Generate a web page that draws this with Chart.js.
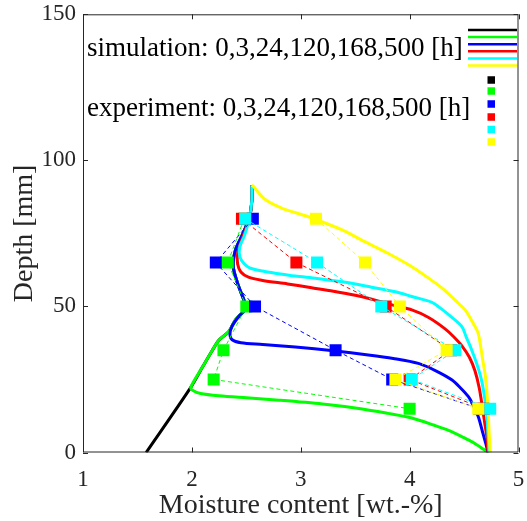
<!DOCTYPE html>
<html>
<head>
<meta charset="utf-8">
<script src="https://cdn.jsdelivr.net/npm/chart.js@4.4.1/dist/chart.umd.min.js"></script>
<style>
  html, body { margin: 0; padding: 0; background: #fff; }
</style>
</head>
<body>
<canvas id="profile" width="527" height="521"></canvas>
<script>
// drying times [h] and their colours
const hours = ['0', '3', '24', '120', '168', '500'];
const colors = ['#000000', '#00ff00', '#0000ff', '#ff0000', '#00ffff', '#ffff00'];

// axis ticks
const xTicks = [1, 2, 3, 4, 5];
const yTicks = [0, 50, 100, 150];

// simulated moisture profiles: [moisture wt.-%, depth mm]
const sim0h = [[1.58, 0], [1.99, 22.3], [2.10, 29.4], [2.19, 35.1], [2.25, 38.5], [2.34, 41.4],
  [2.40, 45.4], [2.50, 49.4], [2.48, 52], [2.42, 57.9], [2.38, 63.6], [2.40, 69.3], [2.47, 75],
  [2.53, 80.7], [2.55, 86], [2.55, 91.5]];
const sim3h = [[4.72, 0], [4.62, 2.6], [4.54, 4.3], [4.39, 7.1], [4.22, 9.4], [4.02, 11.8],
  [3.80, 13.4], [3.55, 15.0], [3.20, 16.6], [2.80, 17.9], [2.50, 18.7], [2.25, 19.4], [2.08, 20.2],
  [2.01, 21.2], [1.99, 22.3], [2.10, 29.4], [2.19, 35.1], [2.25, 38.5], [2.34, 41.4], [2.40, 45.4],
  [2.50, 49.4], [2.48, 52], [2.42, 57.9], [2.38, 63.6], [2.40, 69.3], [2.47, 75], [2.53, 80.7],
  [2.55, 86], [2.55, 91.5]];
const sim24h = [[4.72, 0], [4.70, 3], [4.67, 7], [4.63, 12.3], [4.58, 16.5], [4.54, 19.1],
  [4.47, 22], [4.39, 24.8], [4.25, 27.8], [4.08, 30.5], [3.85, 32.2], [3.62, 33.4], [3.30, 34.8],
  [2.95, 36.1], [2.65, 37.0], [2.45, 37.6], [2.37, 38.6], [2.35, 40.5], [2.37, 43.3], [2.44, 47],
  [2.50, 49.4], [2.48, 52], [2.42, 57.9], [2.38, 63.6], [2.40, 69.3], [2.47, 75], [2.53, 80.7],
  [2.55, 86], [2.55, 91.5]];
const sim120h = [[4.72, 0], [4.71, 5], [4.69, 10], [4.67, 15], [4.64, 22], [4.60, 28], [4.55, 32.5],
  [4.48, 36.5], [4.40, 39.8], [4.32, 42.5], [4.17, 46.3], [4.02, 48.8], [3.87, 50.2], [3.70, 52.0],
  [3.50, 53.8], [3.30, 55.2], [3.10, 56.4], [2.88, 57.7], [2.65, 58.9], [2.52, 60.0], [2.45, 61.8],
  [2.42, 64.5], [2.42, 68], [2.45, 72], [2.49, 76], [2.53, 80.5], [2.55, 86], [2.55, 91.5]];
const sim168h = [[4.73, 0], [4.72, 6], [4.71, 12.3], [4.69, 18.5], [4.66, 24.8], [4.62, 30],
  [4.57, 35.1], [4.52, 39.5], [4.48, 43.1], [4.38, 46.5], [4.28, 49.5], [4.20, 51.5], [4.02, 53.4],
  [3.87, 55.0], [3.65, 56.6], [3.41, 58.3], [3.15, 59.6], [2.95, 60.4], [2.78, 61.3], [2.65, 62.1],
  [2.53, 63.2], [2.48, 64.6], [2.44, 67], [2.44, 70.5], [2.48, 74], [2.53, 80.5], [2.55, 86],
  [2.55, 91.5]];
const sim500h = [[2.55, 91.5], [2.57, 91.0], [2.59, 89.9], [2.68, 86.4], [2.83, 83.6], [3.07, 80.7],
  [3.38, 76.2], [3.56, 72.7], [3.80, 68.2], [4.02, 63.6], [4.20, 59], [4.32, 55.6], [4.45, 51],
  [4.51, 48.8], [4.58, 44.5], [4.63, 40.8], [4.67, 32], [4.70, 25], [4.72, 15], [4.73, 7], [4.74, 0]];

// measured moisture at sampling depths
const expDepth = [80, 65, 50, 35, 25, 15];
const exp0h = [];
const exp3h = [2.48, 2.33, 2.50, 2.29, 2.20, 4.00];
const exp24h = [2.56, 2.22, 2.58, 3.32, 3.84, 4.64];
const exp120h = [2.46, 2.96, 3.78, 4.38, 4.00, 4.68];
const exp168h = [2.49, 3.15, 3.74, 4.42, 4.02, 4.74];
const exp500h = [3.14, 3.59, 3.91, 4.34, 3.87, 4.63];

const sims = [sim0h, sim3h, sim24h, sim120h, sim168h, sim500h];
const exps = [exp0h, exp3h, exp24h, exp120h, exp168h, exp500h];

const FONT = '"Liberation Serif", "Times New Roman", serif';
const AXIS = '#262626';

const datasets = [];
sims.forEach((s, i) => {
  datasets.push({
    label: 'simulation ' + hours[i] + ' h',
    data: s.map(p => ({ x: p[0], y: p[1] })),
    showLine: true,
    borderColor: colors[i],
    borderWidth: 3,
    pointRadius: 0,
    tension: 0.3,
    order: 12 - i,
  });
});
exps.forEach((e, i) => {
  datasets.push({
    label: 'experiment ' + hours[i] + ' h',
    data: e.map((v, k) => ({ x: v, y: expDepth[k] })),
    showLine: true,
    borderColor: colors[i],
    borderWidth: 1,
    borderDash: [4, 3],
    pointStyle: 'rect',
    pointRadius: 8.5,
    pointBorderWidth: 0,
    pointBackgroundColor: colors[i],
    order: 6 - i,
  });
});

// box around the plot with inward tick marks
const frameTicks = {
  id: 'frameTicks',
  afterDatasetsDraw(chart) {
    const { ctx, chartArea: a, scales: { x, y } } = chart;
    ctx.save();
    ctx.strokeStyle = AXIS;
    ctx.lineWidth = 1;
    ctx.beginPath();
    ctx.rect(a.left + 0.5, a.top + 0.5, a.right - a.left - 1, a.bottom - a.top - 1);
    xTicks.forEach(v => {
      const px = Math.round(x.getPixelForValue(v)) + 0.5;
      ctx.moveTo(px, a.bottom); ctx.lineTo(px, a.bottom - 5);
      ctx.moveTo(px, a.top); ctx.lineTo(px, a.top + 5);
    });
    yTicks.forEach(v => {
      const py = Math.round(y.getPixelForValue(v)) + 0.5;
      ctx.moveTo(a.left, py); ctx.lineTo(a.left + 5, py);
      ctx.moveTo(a.right, py); ctx.lineTo(a.right - 5, py);
    });
    ctx.stroke();
    ctx.restore();
  }
};

// legend: one text row per kind, samples stacked at the right
const stackedLegend = {
  id: 'stackedLegend',
  afterDraw(chart) {
    const { ctx } = chart;
    ctx.save();
    ctx.fillStyle = '#000';
    ctx.font = '27px ' + FONT;
    ctx.textBaseline = 'alphabetic';
    ctx.fillText('simulation: ' + hours.join(',') + ' [h]', 87, 56);
    ctx.fillText('experiment: ' + hours.join(',') + ' [h]', 87, 116);
    const lineY = [30, 37.1, 44.2, 51.3, 58.4, 65.5];
    colors.forEach((c, i) => {
      ctx.strokeStyle = c;
      ctx.lineWidth = 2.5;
      ctx.beginPath();
      ctx.moveTo(468, lineY[i]);
      ctx.lineTo(517, lineY[i]);
      ctx.stroke();
    });
    const markY = [80, 91, 104, 117, 129.5, 142];
    colors.forEach((c, i) => {
      ctx.fillStyle = c;
      ctx.fillRect(487.5, markY[i] - 3.75, 7.5, 7.5);
    });
    ctx.restore();
  }
};

new Chart(document.getElementById('profile'), {
  type: 'scatter',
  data: { datasets },
  options: {
    responsive: false,
    devicePixelRatio: 1,
    animation: false,
    layout: { padding: { top: 14.3, right: 6.3, left: 0, bottom: 0 } },
    plugins: {
      legend: { display: false },
      tooltip: { enabled: false },
    },
    scales: {
      x: {
        type: 'linear',
        min: 1,
        max: 5,
        afterFit(scale) {
          scale.height = 68.5;
          scale.paddingLeft = 0;
          scale.paddingRight = 0;
        },
        afterBuildTicks(scale) { scale.ticks = xTicks.map(v => ({ value: v })); },
        grid: { display: false, drawTicks: false },
        border: { display: false },
        ticks: { padding: 14, color: AXIS, font: { family: FONT, size: 23 } },
        title: {
          display: true,
          text: 'Moisture content [wt.-%]',
          color: AXIS,
          font: { family: FONT, size: 28 },
          padding: { top: 0, bottom: -1.5 },
        },
      },
      y: {
        type: 'linear',
        min: 0,
        max: 150,
        afterFit(scale) {
          scale.width = 83;
          scale.paddingTop = 0;
          scale.paddingBottom = 0;
        },
        afterBuildTicks(scale) { scale.ticks = yTicks.map(v => ({ value: v })); },
        grid: { display: false, drawTicks: false },
        border: { display: false },
        ticks: { padding: 7, color: AXIS, font: { family: FONT, size: 23 } },
        title: {
          display: true,
          text: 'Depth [mm]',
          color: AXIS,
          font: { family: FONT, size: 28 },
          padding: { top: 7.5, bottom: 0 },
        },
      },
    },
  },
  plugins: [frameTicks, stackedLegend],
});
</script>
</body>
</html>
